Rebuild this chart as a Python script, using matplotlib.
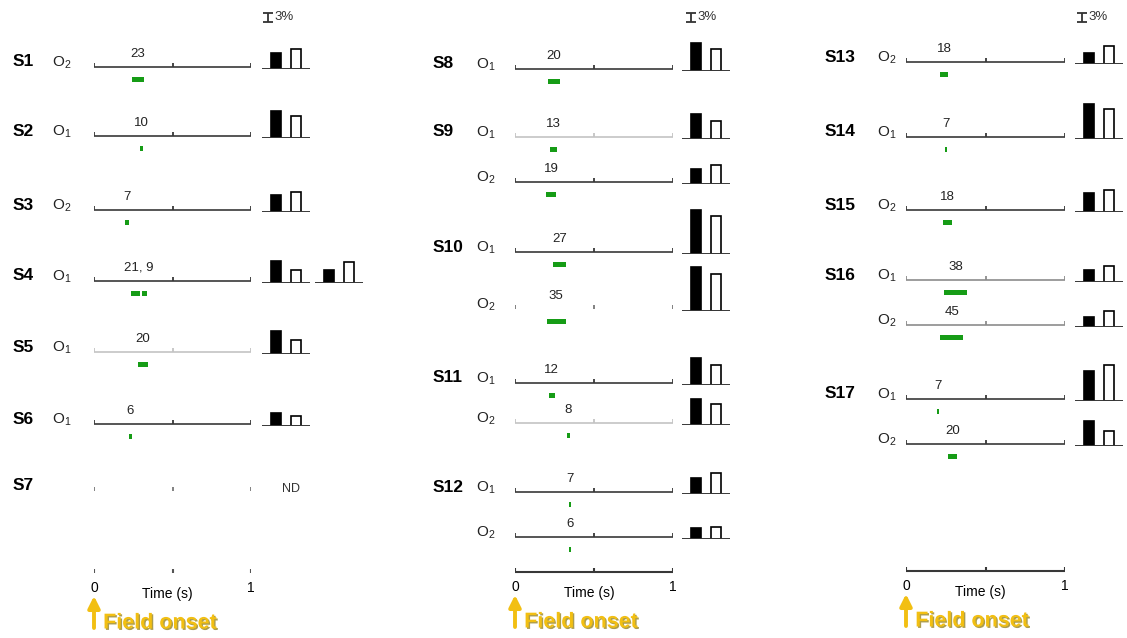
import numpy as np
import matplotlib.pyplot as plt
import matplotlib.patheffects as pe

plt.rcParams['font.family'] = ['Liberation Sans', 'DejaVu Sans']
plt.rcParams['mathtext.fontset'] = 'custom'
plt.rcParams['mathtext.rm'] = 'Liberation Sans'
plt.rcParams['mathtext.it'] = 'Liberation Sans:italic'
plt.rcParams['mathtext.bf'] = 'Liberation Sans:bold'

# one entry per recording row (subject / occipital channel)
subjects = ['S1', 'S2', 'S3', 'S4', 'S5', 'S6', 'S7',
            'S8', 'S9', '', 'S10', '', 'S11', '', 'S12', '',
            'S13', 'S14', 'S15', 'S16', '', 'S17', '']
channels = ['2', '1', '2', '1', '1', '1', '',
            '1', '1', '2', '1', '2', '1', '2', '1', '2',
            '2', '1', '2', '1', '2', '1', '2']
counts = ['23', '10', '7', '21, 9', '20', '6', '',
          '20', '13', '19', '27', '35', '12', '8', '7', '6',
          '18', '7', '18', '38', '45', '7', '20']
# significant windows after field onset (s)
windows = [
    [(0.24, 0.32)], [(0.295, 0.315)], [(0.20, 0.22)],
    [(0.235, 0.295), (0.305, 0.34)], [(0.28, 0.345)], [(0.22, 0.24)], [],
    [(0.21, 0.285)], [(0.22, 0.265)], [(0.195, 0.26)], [(0.24, 0.32)],
    [(0.20, 0.32)], [(0.215, 0.25)], [(0.33, 0.345)], [(0.34, 0.355)],
    [(0.34, 0.355)],
    [(0.215, 0.265)], [(0.245, 0.26)], [(0.235, 0.29)], [(0.24, 0.385)],
    [(0.215, 0.36)], [(0.195, 0.21)], [(0.265, 0.32)],
]
# paired bars, % change
filled_pct = [5.3, 9.0, 5.6, 7.3, 7.7, 4.3, np.nan,
              9.3, 8.3, 5.0, 14.7, 14.7, 9.0, 8.7, 5.3, 3.7,
              3.7, 11.7, 6.3, 4.0, 3.3, 10.0, 8.3]
open_pct = [6.7, 7.3, 6.7, 4.3, 4.7, 3.3, np.nan,
            7.3, 6.0, 6.3, 12.7, 12.3, 6.7, 7.0, 7.0, 4.0,
            6.0, 10.0, 7.3, 5.3, 5.3, 12.0, 5.0]
s4_second = [4.3, 7.0]

# layout in pixels
W, H = 1127, 638
col_of_row = [0] * 7 + [1] * 9 + [2] * 7
row_y = [67, 136, 210, 281, 352, 424, 491,
         69, 137, 182, 252, 309, 383, 423, 492, 537,
         62, 137, 210, 280, 325, 399, 444]
D, L, M = '#383838', '#c4c4c4', '#8c8c8c'
line_tone = [D, D, D, D, L, D, None,
             D, L, D, D, None, D, L, D, D,
             D, D, D, M, M, D, D]
col_x0 = [94, 515, 906]
col_x1 = [251, 673, 1065]
subj_x = [13, 433, 825]
chan_x = [52, 476, 877]
bar_left = [262, 682, 1075]
scale_x = [268, 691, 1082]
axis_y = [573, 572, 571]
axis_tone = [None, D, D]
PX_PER_PCT = 3.0
GREEN = '#169c16'
GOLD = '#f2bf12'

fig = plt.figure(figsize=(W / 100, H / 100), dpi=100)


def px_axes(left, top, width, height):
    ax = fig.add_axes([left / W, 1 - (top + height) / H, width / W, height / H])
    ax.axis('off')
    return ax


def draw_pair(left, y, a, b):
    bx = px_axes(left, y + 2 - 55, 48, 55)
    bx.set_xlim(-0.7, 1.7)
    bx.set_ylim(0, 55 / PX_PER_PCT)
    bx.bar([0, 1], [a, b], width=0.5, color=['black', 'white'],
           edgecolor='black', linewidth=1.2)
    bx.axhline(0, color=D, lw=1.4)


for i, y in enumerate(row_y):
    c = col_of_row[i]
    ax = px_axes(col_x0[c], y - 20, col_x1[c] - col_x0[c], 40)
    ax.set_xlim(0, 1)
    ax.set_ylim(-20, 20)
    if line_tone[i]:
        ax.plot([0, 1], [0, 0], color=line_tone[i], lw=1.2, solid_capstyle='butt')
    ax.vlines([0, 0.5, 1], 0, 4, color=line_tone[i] or '#777', lw=1.3)
    for s, e in windows[i]:
        ax.barh(-12, e - s, left=s, height=5, color=GREEN)
    if windows[i]:
        mid = (windows[i][0][0] + windows[i][-1][1]) / 2
        ax.text(mid, 7, counts[i], ha='center', va='bottom', fontsize=9.5,
                color='#222')

    if subjects[i]:
        fig.text(subj_x[c] / W, 1 - (y - 5) / H, subjects[i], fontsize=12.5,
                 fontweight='bold', va='center', ha='left')
    if channels[i]:
        fig.text(chan_x[c] / W, 1 - (y - 4) / H,
                 r'O$_\mathregular{%s}$' % channels[i], fontsize=11,
                 va='center', ha='left', color='#222')

    if np.isnan(filled_pct[i]):
        fig.text((bar_left[c] + 20) / W, 1 - (y - 2) / H, 'ND', fontsize=9,
                 va='center', ha='left', color='#333')
    else:
        draw_pair(bar_left[c], y, filled_pct[i], open_pct[i])

# second stimulation pair for S4
draw_pair(bar_left[0] + 53, row_y[3], *s4_second)

for c in range(3):
    # 3 % scale bar
    sx = px_axes(scale_x[c] - 10, 8, 50, 20)
    sx.set_xlim(-10, 40)
    sx.set_ylim(0, 20 / PX_PER_PCT)
    sx.errorbar(0, 3.5, yerr=1.5, fmt='none', ecolor='#333', capsize=3.5,
                elinewidth=1.3, capthick=1.3)
    sx.text(6, 3.5, '3%', fontsize=9.5, va='center', ha='left', color='#333')

    # time axis
    ya = axis_y[c]
    tx = px_axes(col_x0[c], ya - 10, col_x1[c] - col_x0[c], 70)
    tx.set_xlim(0, 1)
    tx.set_ylim(-60, 10)
    if axis_tone[c]:
        tx.plot([0, 1], [0, 0], color=axis_tone[c], lw=1.5, solid_capstyle='butt')
    tx.vlines([0, 0.5, 1], 0, 4.5, color=axis_tone[c] or '#555', lw=1.5)
    tx.text(0, -15, '0', ha='center', va='center', fontsize=10)
    tx.text(1, -15, '1', ha='center', va='center', fontsize=10)
    tx.text(0.47, -21, 'Time (s)', ha='center', va='center', fontsize=10)
    tx.annotate('', xy=(0, -23), xytext=(0, -55),
                arrowprops=dict(arrowstyle='-|>,head_width=0.35,head_length=0.7',
                                color=GOLD, lw=2.8, shrinkA=0, shrinkB=0),
                annotation_clip=False)
    tx.text(0.058, -50, 'Field onset', color=GOLD, fontsize=15.5,
            fontweight='bold', va='center', ha='left',
            path_effects=[pe.withSimplePatchShadow(offset=(1, -1),
                                                  shadow_rgbFace='#8a7400',
                                                  alpha=0.7)])

fig.savefig('out.png', dpi=100)
